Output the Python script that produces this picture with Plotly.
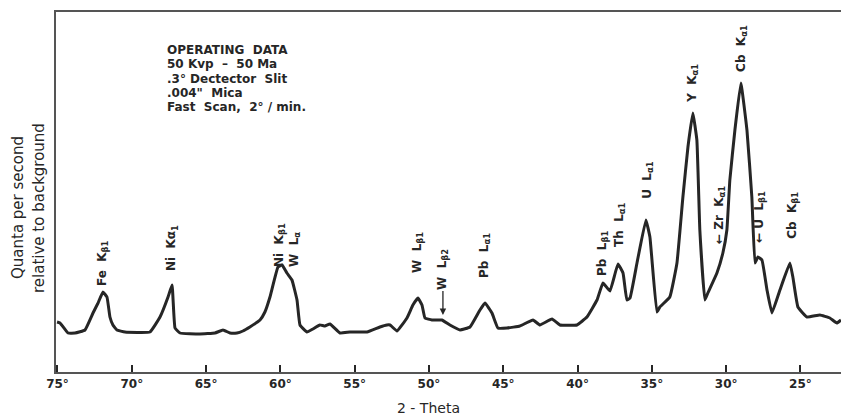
import plotly.graph_objects as go

# 2-theta (degrees) and intensity (relative units)
two_theta = [75.03, 74.83, 74.29, 73.82, 73.15, 72.61, 72.27, 71.94, 71.67, 71.47, 71.27, 71.00,
             70.46, 68.78, 68.10, 67.56, 67.29, 67.09, 66.75, 65.41, 64.40, 63.86, 63.39, 62.92,
             62.52, 62.05, 61.37, 61.04, 60.70, 60.16, 59.89, 59.56, 59.22, 58.88, 58.68, 58.21,
             57.81, 57.34, 57.00, 56.66, 55.99, 55.32, 54.17, 53.30, 52.83, 52.62, 52.15, 51.48,
             51.08, 50.74, 50.47, 50.27, 49.80, 49.13, 48.59, 47.91, 47.24, 46.57, 46.23, 45.76,
             45.36, 44.75, 43.88, 43.00, 42.53, 41.72, 41.19, 40.04, 39.37, 38.69, 38.29, 37.82,
             37.28, 36.94, 36.68, 36.47, 36.00, 35.40, 35.13, 34.66, 34.46, 33.79, 33.31, 32.91,
             32.57, 32.24, 31.97, 31.77, 31.43, 31.23, 30.62, 30.22, 29.95, 29.75, 29.41, 29.01,
             28.60, 28.27, 28.06, 27.86, 27.59, 27.25, 26.92, 26.38, 25.71, 25.51, 25.17, 24.56,
             23.69, 23.02, 22.55, 22.27]
intensity = [50, 49, 39, 39, 42, 59, 69, 80, 75, 55, 47, 42,
             40, 40, 55, 75, 87, 44, 39, 38, 39, 42, 39, 39,
             41, 45, 52, 60, 75, 105, 107, 99, 92, 72, 47, 40,
             43, 47, 46, 48, 39, 40, 40, 45, 47, 47, 41, 54,
             67, 74, 67, 54, 52, 52, 47, 42, 45, 62, 69, 59,
             44, 44, 46, 52, 47, 53, 47, 47, 55, 72, 89, 81,
             108, 99, 72, 74, 109, 152, 135, 60, 65, 75, 109, 175,
             225, 259, 232, 142, 72, 79, 99, 119, 142, 192, 242, 289,
             242, 175, 109, 115, 112, 82, 59, 82, 109, 95, 65, 55,
             57, 54, 49, 52]

tick_vals = [75, 70, 65, 60, 55, 50, 45, 40, 35, 30, 25]
tick_text = [f"{v}°" for v in tick_vals]

# peak labels: text, 2-theta, intensity of label centre
peak_labels = [
    ("Fe  K<sub>β1</sub>", 71.94, 109),
    ("Ni  Kα<sub>1</sub>", 67.29, 124),
    ("Ni  K<sub>β1</sub>", 60.03, 127),
    ("W  L<sub>α</sub>", 59.02, 123),
    ("W  L<sub>β1</sub>", 50.74, 120),
    ("Pb  L<sub>α1</sub>", 46.23, 117),
    ("Pb  L<sub>β1</sub>", 38.29, 119),
    ("Th  L<sub>α1</sub>", 37.15, 147),
    ("U  L<sub>α1</sub>", 35.27, 192),
    ("Y  K<sub>α1</sub>", 32.24, 289),
    ("← Zr  K<sub>α1</sub>", 30.42, 157),
    ("Cb  K<sub>α1</sub>", 28.94, 324),
    ("← U  L<sub>β1</sub>", 27.73, 155),
    ("Cb  K<sub>β1</sub>", 25.51, 157),
]

operating_data = ["OPERATING  DATA", "50 Kvp  –  50 Ma", ".3° Dectector  Slit",
                  ".004\"  Mica", "Fast  Scan,  2° / min."]

ink = "#262626"
font_main = "DejaVu Sans"

W, H = 841, 417
ml, mr, mt, mb = 56, 0, 12, 45
pw, ph = W - ml - mr, H - mt - mb


def px(x):
    return (x - ml) / pw


def py(y):
    return 1 - (y - mt) / ph


fig = go.Figure()
fig.add_trace(go.Scatter(x=two_theta, y=intensity, mode="lines",
                         line=dict(color=ink, width=3, shape="spline", smoothing=0.3),
                         hoverinfo="skip", showlegend=False))

for txt, xv, yv in peak_labels:
    fig.add_annotation(x=xv, y=yv, xref="x", yref="y", text=txt, textangle=-90,
                       showarrow=False, xanchor="center", yanchor="middle",
                       font=dict(family=font_main, size=12, color=ink, weight="bold"))
# W L beta2 with arrow
fig.add_annotation(x=49.06, y=57, xref="x", yref="y", text="W  L<sub>β2</sub>", textangle=-90,
                   showarrow=True, ax=0, ay=-46, arrowhead=2, arrowsize=1, arrowwidth=1.3,
                   arrowcolor=ink, font=dict(family=font_main, size=12, color=ink, weight="bold"))

for i, line in enumerate(operating_data):
    fig.add_annotation(x=px(165), y=py(50 + i * 14.3), xref="paper", yref="paper", text=line,
                       showarrow=False, xanchor="left", yanchor="middle",
                       font=dict(family=font_main, size=12, color=ink, weight="bold"))

# axis titles
fig.add_annotation(x=px(428), y=py(408), xref="paper", yref="paper",
                   text="2 - Theta", showarrow=False, xanchor="center", yanchor="middle",
                   font=dict(family=font_main, size=14, color=ink))
fig.add_annotation(x=px(18), y=py(208), xref="paper", yref="paper",
                   text="Quanta per second", textangle=-90, showarrow=False,
                   xanchor="center", yanchor="middle",
                   font=dict(family=font_main, size=15, color=ink))
fig.add_annotation(x=px(39), y=py(208), xref="paper", yref="paper",
                   text="relative to background", textangle=-90, showarrow=False,
                   xanchor="center", yanchor="middle",
                   font=dict(family=font_main, size=15, color=ink))

fig.update_layout(
    width=W, height=H,
    margin=dict(l=ml, r=mr, t=mt, b=mb, pad=0),
    paper_bgcolor="white", plot_bgcolor="white",
    xaxis=dict(range=[75.10, 22.27], tickvals=tick_vals, ticktext=tick_text,
               ticks="inside", ticklen=7, tickwidth=1.5, tickcolor=ink,
               showline=True, linecolor="#555", linewidth=2, mirror=True,
               showgrid=False, zeroline=False,
               tickfont=dict(family=font_main, size=12, color=ink, weight="bold")),
    yaxis=dict(range=[0, 360], showticklabels=False, ticks="", showgrid=False,
               zeroline=False, showline=True, linecolor="#555", linewidth=2),
)

fig.write_html("out.html", config={"displayModeBar": False},
               post_script="document.body.style.margin='0';document.body.style.overflow='hidden';")
